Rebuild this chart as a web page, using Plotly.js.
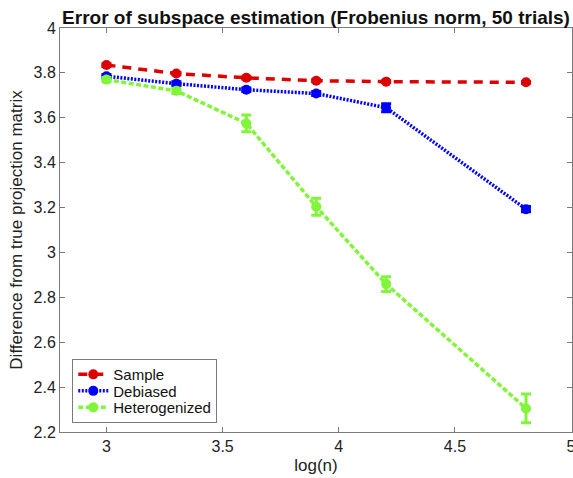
<!DOCTYPE html>
<html>
<head>
<meta charset="utf-8">
<script src="https://cdn.plot.ly/plotly-3.0.1.min.js"></script>
<style>html,body{margin:0;padding:0;background:#fff;}#chart{width:573px;height:478px;}</style>
</head>
<body>
<div id="chart"></div>
<script>
const logN = [3.0, 3.301, 3.602, 3.903, 4.204, 4.806];
const sampleVals = [3.835, 3.797, 3.778, 3.765, 3.761, 3.758];
const sampleErr = [0.006, 0.005, 0.005, 0.004, 0.004, 0.004];
const debiasedVals = [3.785, 3.752, 3.725, 3.708, 3.645, 3.193];
const debiasedErr = [0.008, 0.008, 0.008, 0.009, 0.018, 0.012];
const heteroVals = [3.770, 3.720, 3.575, 3.204, 2.859, 2.305];
const heteroErr = [0.010, 0.012, 0.037, 0.038, 0.033, 0.064];
const names = ["Sample", "Debiased", "Heterogenized"];
const xTicks = [3, 3.5, 4, 4.5, 5];
const xTickText = ['3', '3.5', '4', '4.5', '5'];
const yTicks = [2.2, 2.4, 2.6, 2.8, 3, 3.2, 3.4, 3.6, 3.8, 4];
const yTickText = ['2.2', '2.4', '2.6', '2.8', '3', '3.2', '3.4', '3.6', '3.8', '4'];

const font = "Liberation Sans, Arial, Helvetica, sans-serif";

function tr(name, y, err, color, dash, width) {
  return {
    x: logN, y: y, name: name, type: 'scatter', mode: 'lines+markers',
    line: {color: color, dash: dash, width: width},
    marker: {color: color, size: 10, symbol: 'circle'},
    error_y: {type: 'data', array: err, visible: true, color: color, thickness: 3, width: 5}
  };
}

const data = [
  tr(names[0], sampleVals, sampleErr, '#dd0000', '9px,7px', 3.5),
  tr(names[1], debiasedVals, debiasedErr, '#0000ff', '2px,1.5px', 3.5),
  tr(names[2], heteroVals, heteroErr, '#80f53a', '5px,2.5px', 3.5)
];

const axisCommon = {
  showgrid: false, zeroline: false, showline: true, mirror: 'ticks',
  linecolor: '#7a7a7a', linewidth: 1, ticks: 'inside', ticklen: 5,
  tickcolor: '#7a7a7a', tickfont: {family: font, size: 16, color: '#222'},
  ticklabeloverflow: 'allow'
};

const layout = {
  width: 573, height: 478,
  margin: {l: 60, r: 1, t: 28, b: 46},
  paper_bgcolor: '#fff', plot_bgcolor: '#fff',
  title: {text: '<b>Error of subspace estimation (Frobenius norm, 50 trials)</b>',
    font: {family: font, size: 19, color: '#111'}, xref: 'paper', x: 0.5, xanchor: 'center', y: 0.963, yanchor: 'middle'},
  xaxis: Object.assign({}, axisCommon, {
    range: [2.8, 5.004], tickvals: xTicks, ticktext: xTickText,
    title: {text: 'log(n)', font: {family: font, size: 17, color: '#222'}, standoff: 4}
  }),
  yaxis: Object.assign({}, axisCommon, {
    range: [2.2, 4.0], tickvals: yTicks, ticktext: yTickText,
    title: {text: 'Difference from true projection matrix', font: {family: font, size: 17, color: '#222'}, standoff: 6}
  }),
  showlegend: true,
  legend: {x: 0.024, y: 0.022, xanchor: 'left', yanchor: 'bottom',
    bgcolor: '#fff', bordercolor: '#7a7a7a', borderwidth: 1,
    font: {family: font, size: 15, color: '#111'}, tracegroupgap: 0, itemwidth: 30}
};

function parseT(t) {
  const m = /translate\(\s*([-\d.e]+)[ ,]+([-\d.e]+)\s*\)/.exec(t || '');
  return m ? [parseFloat(m[1]), parseFloat(m[2])] : [0, 0];
}

Plotly.newPlot('chart', data, layout, {displayModeBar: false, staticPlot: true}).then(function (gd) {
  // compact the legend rows (MATLAB-like tight spacing), keeping its bottom edge fixed
  const leg = gd.querySelector('g.legend');
  if (!leg) return;
  const items = leg.querySelectorAll('g.traces');
  if (items.length < 2) return;
  const ys = Array.from(items).map(function (g) { return parseT(g.getAttribute('transform')); });
  const oldStep = ys[1][1] - ys[0][1];
  const step = 16.5;
  const shrink = (oldStep - step) * (items.length - 1) + 4;
  items.forEach(function (g, i) {
    g.setAttribute('transform', 'translate(' + ys[i][0] + ',' + (ys[0][1] - 2 + i * step) + ')');
  });
  const bg = leg.querySelector('rect.bg');
  if (bg) bg.setAttribute('height', parseFloat(bg.getAttribute('height')) - shrink);
  const lt = parseT(leg.getAttribute('transform'));
  leg.setAttribute('transform', 'translate(' + lt[0] + ',' + (lt[1] + shrink) + ')');
});
</script>
</body>
</html>
